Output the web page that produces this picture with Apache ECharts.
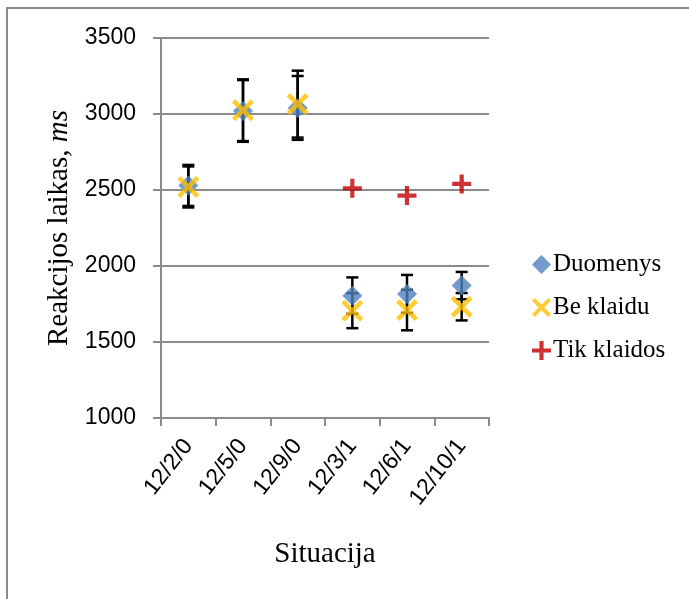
<!DOCTYPE html>
<html>
<head>
<meta charset="utf-8">
<script src="https://cdn.jsdelivr.net/npm/echarts@6/dist/echarts.min.js"></script>
<style>
  html, body { margin: 0; padding: 0; background: #fff; }
  #chart { width: 689px; height: 599px; }
</style>
</head>
<body>
<div id="chart"></div>
<script>
const categories = ['12/2/0', '12/5/0', '12/9/0', '12/3/1', '12/6/1', '12/10/1'];
const duomenys = [2530, 3020, 3040, 1805, 1816, 1871];
const beKlaidu = [2520, 3025, 3065, 1706, 1710, 1732];
const tikKlaidos = [null, null, null, 2511, 2463, 2540];
const duomenysErr = [135, 203, 210, 120, 125, 90];
const beKlaiduErr = [135, 203, 220, 115, 133, 90];

const plusPath = 'path://M7,0h4v7h7v4h-7v7h-4v-7h-7v-4h7z';
const xPath = 'path://M0,3L3,0L10,7L17,0L20,3L13,10L20,17L17,20L10,13L3,20L0,17L7,10Z';

function errData(vals, errs) {
    return vals.map((v, i) => [i, v - errs[i], v + errs[i]]);
}

function renderErr(params, api) {
    const i = api.value(0);
    const lo = api.coord([i, api.value(1)]);
    const hi = api.coord([i, api.value(2)]);
    const w = 6;
    const style = { stroke: '#000', lineWidth: 2.5 };
    return {
        type: 'group',
        children: [
            { type: 'line', shape: { x1: hi[0], y1: hi[1], x2: lo[0], y2: lo[1] }, style: style },
            { type: 'line', shape: { x1: hi[0] - w, y1: hi[1], x2: hi[0] + w, y2: hi[1] }, style: style },
            { type: 'line', shape: { x1: lo[0] - w, y1: lo[1], x2: lo[0] + w, y2: lo[1] }, style: style }
        ]
    };
}

const chart = echarts.init(document.getElementById('chart'));

chart.setOption({
    animation: false,
    graphic: [{
        type: 'rect',
        shape: { x: 7, y: 8, width: 720, height: 640 },
        style: { fill: 'none', stroke: '#8a8a8a', lineWidth: 2 },
        z: -10
    }],
    grid: {
        left: 161,
        right: 200,
        top: 38,
        bottom: 181
    },
    legend: {
        orient: 'vertical',
        left: 527,
        top: 247,
        itemGap: 18,
        itemWidth: 19,
        itemHeight: 19,
        data: ['Duomenys', 'Be klaidu', 'Tik klaidos'],
        textStyle: { fontFamily: 'Liberation Serif', fontSize: 25, color: '#000', padding: [0, 0, 0, -3] }
    },
    xAxis: {
        type: 'category',
        data: categories,
        boundaryGap: true,
        name: 'Situacija',
        nameLocation: 'middle',
        nameGap: 122,
        nameTextStyle: { fontFamily: 'Liberation Serif', fontSize: 29, color: '#000' },
        axisLine: { lineStyle: { color: '#8a8a8a', width: 2 } },
        axisTick: { show: true, length: 8, lineStyle: { color: '#8a8a8a', width: 2 } },
        axisLabel: { rotate: 52, margin: 24, fontFamily: 'Liberation Sans', fontSize: 23, color: '#000' },
        splitLine: { show: false }
    },
    yAxis: {
        type: 'value',
        min: 1000,
        max: 3500,
        interval: 500,
        name: 'Reakcijos laikas, {i|ms}',
        nameLocation: 'middle',
        nameGap: 87,
        nameRotate: 90,
        nameTextStyle: {
            fontFamily: 'Liberation Serif', fontSize: 29, color: '#000',
            rich: { i: { fontFamily: 'Liberation Serif', fontSize: 29, fontStyle: 'italic', color: '#000' } }
        },
        axisLine: { show: true, lineStyle: { color: '#8a8a8a', width: 2 } },
        axisTick: { show: true, length: 8, lineStyle: { color: '#8a8a8a', width: 2 } },
        axisLabel: {
            margin: 25, fontFamily: 'Liberation Sans', fontSize: 23, color: '#000',
            formatter: v => String(v)
        },
        splitLine: { lineStyle: { color: '#8a8a8a', width: 2 } }
    },
    series: [
        {
            type: 'custom',
            renderItem: renderErr,
            data: errData(duomenys, duomenysErr),
            encode: { x: 0, y: [1, 2] },
            z: 1
        },
        {
            type: 'custom',
            renderItem: renderErr,
            data: errData(beKlaidu, beKlaiduErr),
            encode: { x: 0, y: [1, 2] },
            z: 1
        },
        {
            name: 'Duomenys',
            type: 'scatter',
            data: duomenys,
            symbol: 'diamond',
            symbolSize: 20,
            itemStyle: { color: '#4f81bd' },
            z: 3
        },
        {
            name: 'Be klaidu',
            type: 'scatter',
            data: beKlaidu,
            symbol: xPath,
            symbolSize: 22,
            itemStyle: { color: '#ffc000' },
            z: 4
        },
        {
            name: 'Tik klaidos',
            type: 'scatter',
            data: tikKlaidos,
            symbol: plusPath,
            symbolSize: 19,
            itemStyle: { color: '#c00000' },
            z: 5
        }
    ]
});
</script>
</body>
</html>
